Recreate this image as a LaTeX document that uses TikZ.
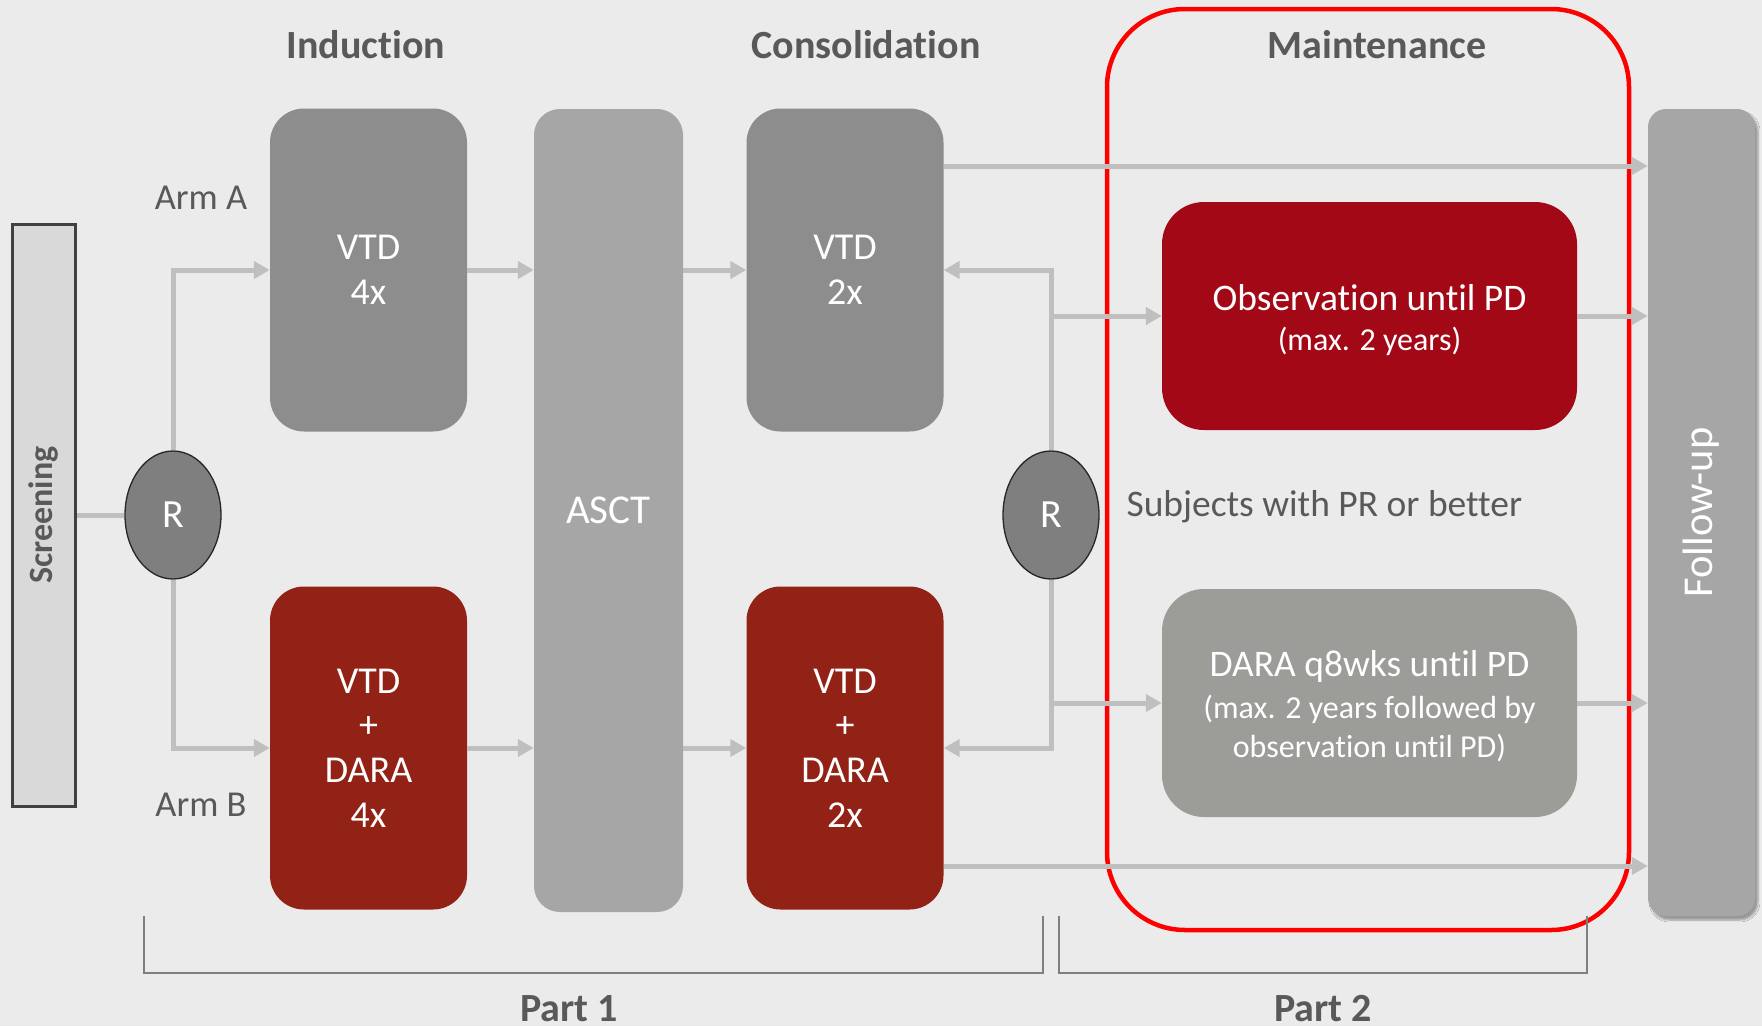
\documentclass[tikz,border=0pt]{standalone}
\usepackage{fontspec}
\setmainfont{Carlito}[Ligatures=NoCommon]
\usetikzlibrary{arrows.meta,shapes.geometric,shadows.blur}

\definecolor{bgcol}{HTML}{EBEBEB}
\definecolor{boxgray}{HTML}{8D8D8D}
\definecolor{lightbox}{HTML}{A6A6A6}
\definecolor{darkred}{HTML}{922215}
\definecolor{obsred}{HTML}{A30817}
\definecolor{maintgray}{HTML}{9C9D98}
\definecolor{conncol}{HTML}{BFBFBF}
\definecolor{labelcol}{HTML}{595959}
\definecolor{rfill}{HTML}{7F7F7F}
\definecolor{scrfill}{HTML}{D9D9D9}
\definecolor{bracketcol}{HTML}{7F7F7F}

% first line of a maintenance box is set larger
\newcommand{\mainline}{\fontsize{37.5}{40}\selectfont}

\tikzset{
  phase/.style={font=\bfseries\fontsize{40}{46}\selectfont, text=labelcol},
  armlabel/.style={font=\fontsize{36.5}{42}\selectfont, text=labelcol},
  treat/.style={rectangle, rounded corners=34pt, minimum width=197pt, minimum height=323pt,
    inner sep=0pt, align=center, text=white, font=\fontsize{38}{44.7}\selectfont},
  graytreat/.style={treat, fill=boxgray},
  redtreat/.style={treat, fill=darkred},
  tallbox/.style={rectangle, fill=lightbox, inner sep=0pt, text=white},
  randnode/.style={ellipse, minimum width=96pt, minimum height=128pt, inner sep=0pt,
    fill=rfill, draw=black!85, line width=1.3pt, text=white, font=\fontsize{40}{44}\selectfont},
  maintbox/.style={rectangle, rounded corners=42pt, minimum width=415pt, minimum height=228pt,
    inner sep=0pt},
  mainttext/.style={align=center, text=white, inner sep=0pt, font=\fontsize{32}{39}\selectfont},
  partlabel/.style={phase, anchor=base, inner sep=0pt, text depth=0pt},
  conn/.style={draw=conncol, line width=5pt},
  arr/.style={conn, -{Triangle[length=16pt,width=17pt]}},
  bracket/.style={draw=bracketcol, line width=2.5pt},
}

\begin{document}
\begin{tikzpicture}[x=1pt,y=-1pt]
  \fill[bgcol] (0,0) rectangle (1762,1026);
  \useasboundingbox (0,0) rectangle (1762,1026);

  % column headings
  \node[phase] (hInd) at (366,45) {Induction};
  \node[phase] (hCon) at (866,45) {Consolidation};
  \node[phase] (hMai) at (1377,45) {Maintenance};

  % screening and first randomisation
  \node[rectangle, fill=scrfill, draw=black!75, line width=3pt, minimum width=63pt,
        minimum height=582pt, inner sep=0pt] (scr) at (43.5,515) {};
  \node[rotate=90, font=\bfseries\fontsize{34}{38}\selectfont, text=labelcol] (scrtext) at (scr.center) {Screening};
  \node[randnode] (r1) at (173,515) {R};

  \node[armlabel] (armA) at (201,198) {Arm A};
  \node[armlabel] (armB) at (201,805) {Arm B};

  % induction
  \node[graytreat] (vtd4) at (368.5,270) {VTD\\4x};
  \node[redtreat] (dara4) at (368.5,748) {VTD\\+\\DARA\\4x};

  % transplant
  \node[tallbox, rounded corners=26pt, minimum width=149pt, minimum height=803pt,
        font=\fontsize{41}{46}\selectfont] (asct) at (608.5,510.5) {ASCT};

  % consolidation
  \node[graytreat] (vtd2) at (845,270) {VTD\\2x};
  \node[redtreat] (dara2) at (845,748) {VTD\\+\\DARA\\2x};

  % second randomisation
  \node[randnode] (r2) at (1051,515) {R};
  \node[armlabel, anchor=west, font=\fontsize{37.5}{42}\selectfont] (subj) at (1123,507) {Subjects with PR or better};

  % maintenance
  \node[maintbox, fill=obsred] (obs) at (1369.5,316) {};
  \node[mainttext] (obstext) at ([yshift=-4pt]obs.center)
    {{\mainline Observation until PD}\\[1pt](max. 2 years)};
  \node[maintbox, fill=maintgray] (darm) at (1369.5,703) {};
  \node[mainttext] (darmtext) at ([yshift=-3pt]darm.center)
    {{\mainline DARA q8wks until PD}\\[3pt](max. 2 years followed by\\observation until PD)};

  \node[rectangle, draw=red, line width=4.5pt, rounded corners=78pt,
        minimum width=522pt, minimum height=921pt, inner sep=0pt] (mframe) at (1368,469.5) {};

  % follow-up
  \node[tallbox, rounded corners=18pt, minimum width=107pt, minimum height=807pt,
        blur shadow={shadow xshift=3pt, shadow yshift=-4pt, shadow blur steps=6, shadow opacity=35}]
        (fu) at (1701.5,512.5) {};
  \node[rotate=90, text=white, font=\fontsize{42.5}{46}\selectfont] (futext) at (fu.center) {Follow-up};

  % connectors
  \coordinate (topline) at (0,166);
  \coordinate (botline) at (0,866);

  \draw[conn] (scr.east |- r1) -- (r1.west);
  \draw[arr] (r1.north) |- (vtd4.west);
  \draw[arr] (r1.south) |- (dara4.west);
  \draw[arr] (vtd4.east) -- (asct.west |- vtd4.east);
  \draw[arr] (dara4.east) -- (asct.west |- dara4.east);
  \draw[arr] (asct.east |- vtd2.west) -- (vtd2.west);
  \draw[arr] (asct.east |- dara2.west) -- (dara2.west);
  \draw[arr] (r2.north) |- (vtd2.east);
  \draw[arr] (r2.south) |- (dara2.east);
  \draw[arr] (r2.north |- obs.west) -- (obs.west);
  \draw[arr] (r2.south |- darm.west) -- (darm.west);
  \draw[arr] (obs.east) -- (fu.west |- obs.east);
  \draw[arr] (darm.east) -- (fu.west |- darm.east);
  \draw[arr] (vtd2.east |- topline) -- (fu.west |- topline);
  \draw[arr] (dara2.east |- botline) -- (fu.west |- botline);

  % study parts
  \draw[bracket] (144,916) |- (1043,973) -- (1043,916);
  \draw[bracket] (1059,916) |- (1587,973) -- (1587,916);
  \node[partlabel] (p1) at (569,1021) {Part 1};
  \node[partlabel] (p2) at (1323,1021) {Part 2};
\end{tikzpicture}
\end{document}
